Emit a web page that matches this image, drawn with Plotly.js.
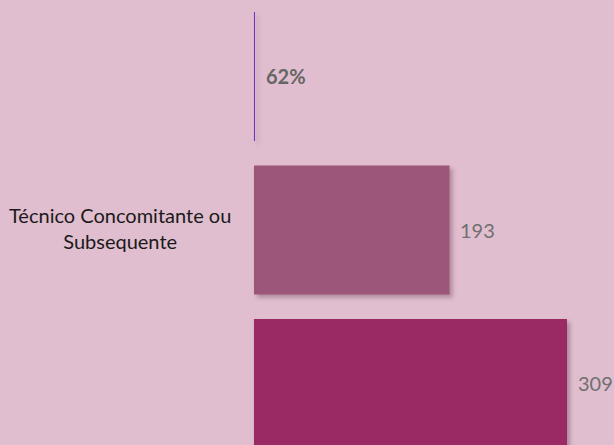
<!DOCTYPE html>
<html>
<head>
<meta charset="utf-8">
<script src="https://cdn.plot.ly/plotly-3.0.1.min.js"></script>
<style>
html,body{margin:0;padding:0;background:#E0BECF;}
#chart{width:614px;height:445px;}
.trace.bars .point path{filter:drop-shadow(3px 3px 2px rgba(80,40,60,0.35));}
</style>
</head>
<body>
<div id="chart"></div>
<script>
// Data (top to bottom)
const categories = ["", "Técnico Concomitante ou<br>Subsequente", ""];
const values = [1, 193, 309];
const valueLabels = ["62%", "193", "309"];
const labelBold = [true, false, false];
const barColors = ["#7030C0", "#9C5679", "#9A2A63"];

const positions = categories.map((c, i) => i);

const trace = {
  type: "bar",
  orientation: "h",
  x: values,
  y: positions,
  marker: {color: barColors, line: {width: 0}},
  hoverinfo: "none",
  width: 0.84
};

const annotations = [];
values.forEach((v, i) => {
  annotations.push({
    x: v, y: positions[i], xref: "x", yref: "y",
    xanchor: "left", yanchor: "middle", xshift: 9,
    text: labelBold[i] ? "<b>" + valueLabels[i] + "</b>" : valueLabels[i],
    showarrow: false,
    font: {family: "Lato, 'Open Sans', sans-serif", size: 20, color: labelBold[i] ? "#666666" : "#707070"}
  });
  if (categories[i]) {
    annotations.push({
      x: 120 / 614, y: positions[i], xref: "paper", yref: "y",
      xanchor: "center", yanchor: "middle", yshift: 2,
      text: categories[i], showarrow: false, align: "center",
      font: {family: "Lato, 'Open Sans', sans-serif", size: 20, color: "#1a1a1a"}
    });
  }
});

const layout = {
  width: 614, height: 445,
  margin: {l: 0, r: 0, t: 0, b: 0, pad: 0},
  paper_bgcolor: "#E0BECF",
  plot_bgcolor: "#E0BECF",
  showlegend: false,
  xaxis: {range: [-250.7, 355.4], visible: false, fixedrange: true},
  yaxis: {range: [2.401, -0.498], visible: false, fixedrange: true},
  annotations: annotations
};

Plotly.newPlot("chart", [trace], layout, {staticPlot: true, displayModeBar: false});
</script>
</body>
</html>
